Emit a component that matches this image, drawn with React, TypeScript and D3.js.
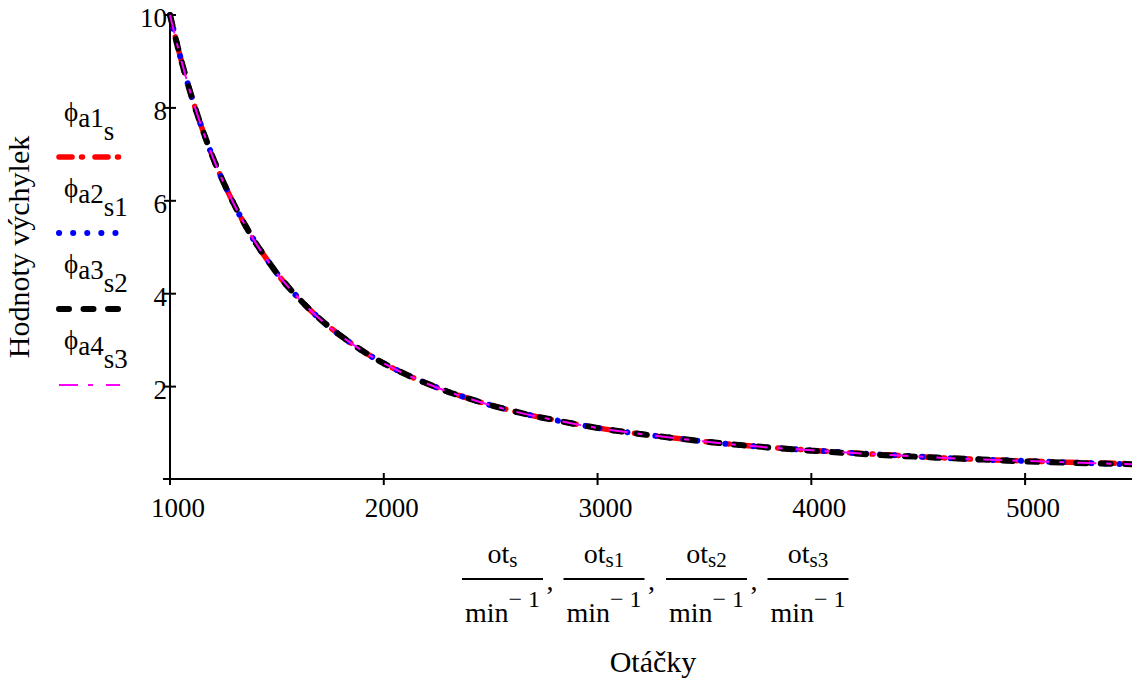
import React from "react";
import * as d3 from "d3";

// Data (otáčky [min^-1] vs. hodnoty výchylek)
const rpm = [1000, 1050, 1100, 1150, 1200, 1250, 1300, 1350, 1400, 1450, 1500, 1600, 1700, 1800, 1900, 2000, 2100, 2200, 2300, 2400, 2500, 2600, 2700, 2800, 2900, 3000, 3200, 3400, 3600, 3800, 4000, 4200, 4400, 4600, 4800, 5000, 5200, 5400, 5500];
const phiA1 = [10.0, 9.07, 8.26, 7.56, 6.94, 6.4, 5.92, 5.49, 5.1, 4.76, 4.44, 3.91, 3.46, 3.09, 2.77, 2.5, 2.27, 2.07, 1.89, 1.74, 1.6, 1.48, 1.37, 1.28, 1.19, 1.11, 0.98, 0.87, 0.77, 0.69, 0.63, 0.57, 0.52, 0.47, 0.43, 0.4, 0.37, 0.35, 0.34];
const phiA2 = [10.0, 9.07, 8.26, 7.56, 6.94, 6.4, 5.92, 5.49, 5.1, 4.76, 4.44, 3.91, 3.46, 3.09, 2.77, 2.5, 2.27, 2.07, 1.89, 1.74, 1.6, 1.48, 1.37, 1.28, 1.19, 1.11, 0.98, 0.87, 0.77, 0.69, 0.63, 0.57, 0.52, 0.47, 0.43, 0.4, 0.37, 0.34, 0.33];
const phiA3 = [10.0, 9.07, 8.26, 7.56, 6.94, 6.4, 5.92, 5.49, 5.1, 4.76, 4.44, 3.91, 3.46, 3.09, 2.77, 2.5, 2.27, 2.07, 1.89, 1.74, 1.6, 1.48, 1.37, 1.28, 1.19, 1.11, 0.98, 0.87, 0.77, 0.69, 0.62, 0.56, 0.51, 0.47, 0.43, 0.39, 0.36, 0.34, 0.33];
const phiA4 = [10.0, 9.07, 8.26, 7.56, 6.94, 6.4, 5.92, 5.49, 5.1, 4.76, 4.44, 3.91, 3.46, 3.09, 2.77, 2.5, 2.27, 2.07, 1.89, 1.74, 1.6, 1.48, 1.37, 1.28, 1.19, 1.11, 0.98, 0.87, 0.77, 0.69, 0.63, 0.57, 0.52, 0.47, 0.43, 0.4, 0.37, 0.34, 0.33];

const xTicks = [1000, 2000, 3000, 4000, 5000];
const yTicks = [2, 4, 6, 8, 10];
const legendNames = ["a1", "a2", "a3", "a4"];
const legendIndex = ["s", "s1", "s2", "s3"];
const fracSubs = ["s", "s1", "s2", "s3"];

const FONT = "Liberation Serif, DejaVu Serif, Times New Roman, serif";

const seriesStyle = [
  { data: phiA1, color: "#ff0000", width: 5.5, dash: "13 9.5 1 12.5", cap: "round" },
  { data: phiA2, color: "#0000ff", width: 6, dash: "0.1 14", cap: "round" },
  { data: phiA3, color: "#000000", width: 6, dash: "10 14.5", cap: "round" },
  { data: phiA4, color: "#ff00ff", width: 2, dash: "19 10 5 13", cap: "butt" },
];

export default function App() {
  const x = d3.scaleLinear().domain([1000, 5500]).range([170, 1132]);
  const y = d3.scaleLinear().domain([0, 10]).range([479.5, 15]);
  const axisY = 479;

  const line = (vals: number[]) =>
    d3
      .line<number>()
      .x((_, i) => x(rpm[i]))
      .y((v) => y(v))
      .curve(d3.curveMonotoneX)(vals) || "";

  const fracCenters = [502.5, 604, 706.5, 808];

  return (
    <svg
      width={1132}
      height={684}
      style={{ position: "absolute", left: 0, top: 0, background: "#fff", fontFamily: FONT }}
    >
      {/* axes */}
      <line x1={163} x2={1132} y1={axisY} y2={axisY} stroke="#000" strokeWidth={2} />
      <line x1={x(1000)} x2={x(1000)} y1={y(10)} y2={axisY} stroke="#000" strokeWidth={2} />
      {xTicks.map((t) => (
        <g key={"xt" + t}>
          <line x1={x(t)} x2={x(t)} y1={axisY - 6} y2={axisY + 6} stroke="#000" strokeWidth={2} />
          <text x={x(t) + 8} y={517} fontSize={27} textAnchor="middle">
            {t}
          </text>
        </g>
      ))}
      {yTicks.map((t) => (
        <g key={"yt" + t}>
          <line x1={x(1000) - 6} x2={x(1000) + 6} y1={y(t)} y2={y(t)} stroke="#000" strokeWidth={2} />
          <text x={167} y={y(t) + 12} fontSize={27} textAnchor="end">
            {t}
          </text>
        </g>
      ))}

      {/* curves */}
      {seriesStyle.map((s, i) => (
        <path
          key={"s" + i}
          d={line(s.data)}
          fill="none"
          stroke={s.color}
          strokeWidth={s.width}
          strokeDasharray={s.dash}
          strokeLinecap={s.cap as any}
        />
      ))}

      {/* legend */}
      {seriesStyle.map((s, i) => {
        const dy = i * 76;
        return (
          <g key={"lg" + i}>
            <text x={64} y={121 + dy} fontSize={27}>
              ϕ
              <tspan dy={6}>{legendNames[i]}</tspan>
              <tspan dy={13}>{legendIndex[i]}</tspan>
            </text>
            <line
              x1={59}
              x2={120}
              y1={157 + dy}
              y2={157 + dy}
              stroke={s.color}
              strokeWidth={s.width}
              strokeDasharray={s.dash}
              strokeLinecap={s.cap as any}
            />
          </g>
        );
      })}

      {/* y title */}
      <text transform={`translate(29,247) rotate(-90)`} fontSize={30} textAnchor="middle">
        Hodnoty výchylek
      </text>

      {/* x label fractions */}
      {fracCenters.map((cx, i) => (
        <g key={"fr" + i}>
          <text x={cx} y={563} fontSize={28} textAnchor="middle">
            ot<tspan fontSize={21} dy={4}>{fracSubs[i]}</tspan>
          </text>
          <line x1={cx - 40.5} x2={cx + 40.5} y1={579} y2={579} stroke="#000" strokeWidth={2} />
          <text x={cx} y={622} fontSize={28} textAnchor="middle">
            min<tspan fontSize={24} dy={-15}>{"\u2212 1"}</tspan>
          </text>
          {i < 3 && (
            <text x={cx + 44} y={590} fontSize={28}>
              ,
            </text>
          )}
        </g>
      ))}
      <text x={653} y={672} fontSize={30} textAnchor="middle">
        Otáčky
      </text>
    </svg>
  );
}
